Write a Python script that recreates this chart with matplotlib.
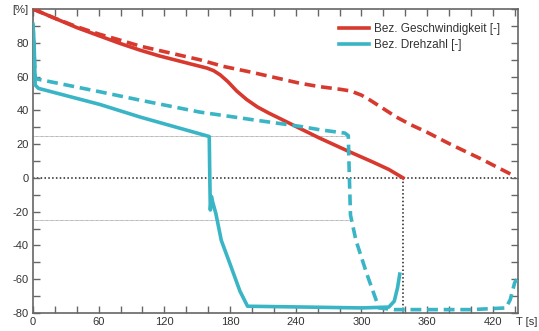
import matplotlib
matplotlib.use('Agg')
import matplotlib.pyplot as plt
from matplotlib.ticker import MultipleLocator

plt.rcParams['font.family'] = ['Liberation Sans', 'DejaVu Sans']

# Bez. Geschwindigkeit, solid (T [s], value [%])
geschw_t = [0, 20, 40, 61, 80, 98, 115, 130, 145, 159, 165, 171, 178, 186, 195, 205, 215, 226,
            240, 262, 289, 310, 325, 338]
geschw_v = [100, 94.5, 89, 84, 79.5, 75.6, 72.3, 69.8, 67.3, 65, 63.5, 61, 57, 51.5, 46.5, 42, 38.5, 35,
            30.5, 23.5, 15.5, 9.5, 5, 0]

# Bez. Geschwindigkeit, dashed
geschw2_t = [0, 20, 40, 61, 80, 98, 125, 152, 174, 200, 244, 262, 280, 290, 300, 308, 320, 332,
             345, 360, 381, 410, 440]
geschw2_v = [100, 94.5, 89.5, 85, 81.5, 78, 74, 70, 66, 62.5, 56, 54, 52.5, 51.5, 49, 46, 41, 36,
             31.5, 27, 20, 11, 1]

# Bez. Drehzahl, solid
drehz_t = [0, 1, 2, 5, 61, 98, 161, 161.5, 162, 163, 164, 167, 172, 180, 189, 196, 250, 300, 325,
           330, 333, 335]
drehz_v = [91, 80, 55, 53, 43.5, 36, 24.5, 0, -19, -11, -14, -21, -37, -51, -67, -76, -76.5, -77,
           -76.5, -73, -65, -57]

# Bez. Drehzahl, dashed
drehz2_t = [0, 1, 2, 4, 61, 98, 152, 200, 244, 262, 285, 288, 289, 290, 295, 305, 316, 330, 400,
            432, 436, 440, 442]
drehz2_v = [91, 75, 59, 58.5, 51, 46, 39, 34.5, 30.5, 28.5, 26.5, 25, 0, -22, -37, -57, -77, -78,
            -78, -77, -72, -62, -60]

red = '#d8392e'
cyan = '#3ab5c5'
grey = '#666666'

fig = plt.figure(figsize=(5.39, 3.31), dpi=100)
ax = fig.add_axes([0.0612, 0.0544, 0.8998, 0.9184])

# reference lines
ax.axhline(0, color='#222222', lw=1.1, ls=(0, (1, 1.5)), zorder=1)
ax.plot([0, 289], [25, 25], color='#999999', lw=0.6, ls=(0, (1, 0.5)), zorder=1)
ax.plot([0, 289], [-25, -25], color='#999999', lw=0.6, ls=(0, (1, 0.5)), zorder=1)
ax.plot([338, 338], [-80, 0], color='#222222', lw=1.1, ls=(0, (1, 1.5)), zorder=1)

ax.plot(geschw_t, geschw_v, color=red, lw=2.6, label='Bez. Geschwindigkeit [-]', zorder=3)
ax.plot(geschw2_t, geschw2_v, color=red, lw=2.6, ls=(0, (3, 1.6)), zorder=3)
ax.plot(drehz_t, drehz_v, color=cyan, lw=2.6, label='Bez. Drehzahl [-]', zorder=3)
ax.plot(drehz2_t, drehz2_v, color=cyan, lw=2.6, ls=(0, (3, 1.6)), zorder=3)

ax.set_xlim(0, 443)
ax.set_ylim(-80, 100)

ax.xaxis.set_minor_locator(MultipleLocator(20))
ax.yaxis.set_minor_locator(MultipleLocator(10))

xt = list(range(0, 421, 60))
ax.set_xticks(xt)
ax.set_xticklabels([str(v) for v in xt])
yt = list(range(-80, 101, 20))
ax.set_yticks(yt)
ax.set_yticklabels([str(v) if v != 100 else '[%]' for v in yt])

ax.tick_params(which='both', direction='in', top=True, right=True, color=grey,
               labelsize=8, labelcolor='#333333', pad=3)
ax.tick_params(which='major', length=5, width=1)
ax.tick_params(which='minor', length=5, width=1)
for s in ax.spines.values():
    s.set_color(grey)
    s.set_linewidth(1.2)

fig.text(0.977, 0.012, 'T [s]', fontsize=8, color='#333333', ha='center', va='bottom')

leg = ax.legend(loc='upper right', bbox_to_anchor=(0.985, 0.99), frameon=False, fontsize=8.5,
                handlelength=2.5, handletextpad=0.45, labelspacing=0.35)
for t in leg.get_texts():
    t.set_color('#333333')

fig.savefig('out.png', dpi=100)
